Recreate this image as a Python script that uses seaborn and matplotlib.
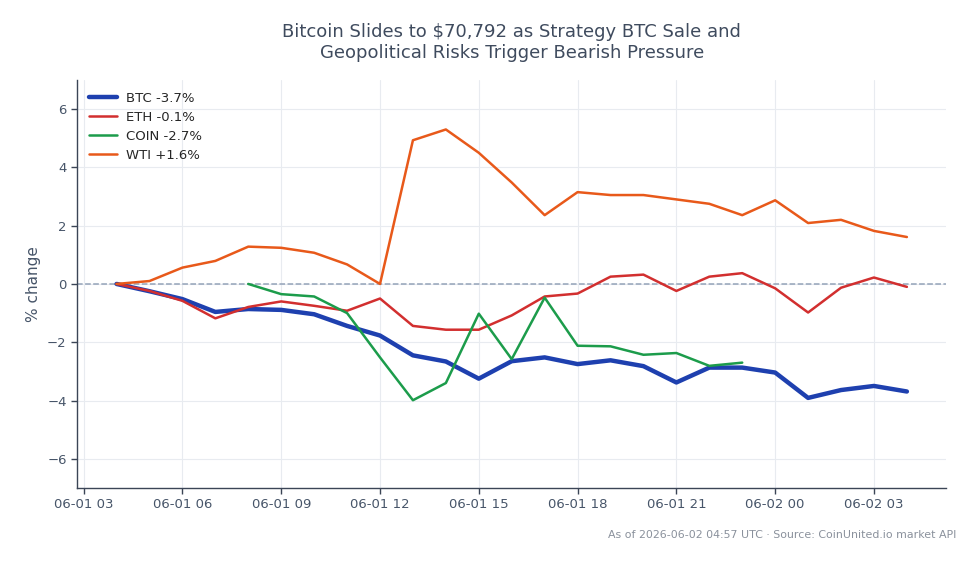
import numpy as np
import pandas as pd
import matplotlib
matplotlib.use("Agg")
import matplotlib.pyplot as plt
import matplotlib.dates as mdates
import seaborn as sns

# hourly points, 06-01 04:00 -> 06-02 04:00 (UTC)
times = pd.date_range("2026-06-01 04:00", periods=25, freq="h")

btc = [0.0, -0.25, -0.52, -0.96, -0.86, -0.89, -1.04, -1.44, -1.77, -2.45, -2.66, -3.25,
       -2.65, -2.52, -2.75, -2.62, -2.82, -3.38, -2.87, -2.87, -3.04, -3.91, -3.64, -3.5, -3.69]
eth = [0.0, -0.24, -0.58, -1.18, -0.79, -0.6, -0.75, -0.92, -0.5, -1.44, -1.57, -1.57,
       -1.08, -0.43, -0.33, 0.25, 0.32, -0.24, 0.25, 0.37, -0.15, -0.98, -0.13, 0.22, -0.1]
# COIN trades 08:00 -> 23:00 only
coin_times = times[4:20]
coin = [0.0, -0.35, -0.43, -1.0, -2.52, -3.99, -3.4, -1.02, -2.58, -0.47, -2.12, -2.14,
        -2.43, -2.37, -2.81, -2.7]
wti = [0.0, 0.1, 0.56, 0.79, 1.28, 1.24, 1.07, 0.67, 0.0, 4.93, 5.3, 4.5,
       3.48, 2.36, 3.15, 3.05, 3.05, 2.9, 2.75, 2.36, 2.87, 2.09, 2.2, 1.82, 1.61]

sns.set_style("white")
plt.rcParams['font.family'] = ['DejaVu Sans']

fig = plt.figure(figsize=(9.79, 5.64), dpi=100)
ax = fig.add_axes([0.0787, 0.1348, 0.888, 0.7235])

ax.grid(True, color="#e8ebf0", linewidth=0.8)
ax.set_axisbelow(True)
ax.axhline(0, color="#94a3b8", linestyle="--", linewidth=1.1, zorder=1)

sns.lineplot(x=times, y=btc, ax=ax, color="#1e40af", linewidth=3.2, label="BTC -3.7%")
sns.lineplot(x=times, y=eth, ax=ax, color="#d22f2f", linewidth=1.8, label="ETH -0.1%")
sns.lineplot(x=coin_times, y=coin, ax=ax, color="#1c9c4b", linewidth=1.8, label="COIN -2.7%")
sns.lineplot(x=times, y=wti, ax=ax, color="#e8591a", linewidth=1.8, label="WTI +1.6%")

ax.set_ylim(-7, 7)
ax.set_yticks([-6, -4, -2, 0, 2, 4, 6])
ax.xaxis.set_major_locator(mdates.HourLocator(byhour=[0, 3, 6, 9, 12, 15, 18, 21]))
ax.xaxis.set_major_formatter(mdates.DateFormatter("%m-%d %H"))

for side in ["top", "right"]:
    ax.spines[side].set_visible(False)
for side in ["left", "bottom"]:
    ax.spines[side].set_color("#3b4556")
    ax.spines[side].set_linewidth(1.0)
ax.tick_params(axis="both", colors="#3b4556", labelcolor="#475569", labelsize=9.5,
               length=4, width=1, bottom=True, left=True)

ax.set_xlabel("")
ax.set_ylabel("% change", color="#475569", fontsize=11)
ax.set_title("Bitcoin Slides to $70,792 as Strategy BTC Sale and\nGeopolitical Risks Trigger Bearish Pressure",
             color="#3f4b5e", fontsize=13, pad=16)

ax.legend(loc="upper left", frameon=False, fontsize=9.5, handlelength=2.1,
          handletextpad=0.7, labelspacing=0.45)

fig.text(0.977, 0.052, "As of 2026-06-02 04:57 UTC · Source: CoinUnited.io market API",
         ha="right", va="center", fontsize=7.9, color="#8a919c")

fig.savefig("out.png", dpi=100)
